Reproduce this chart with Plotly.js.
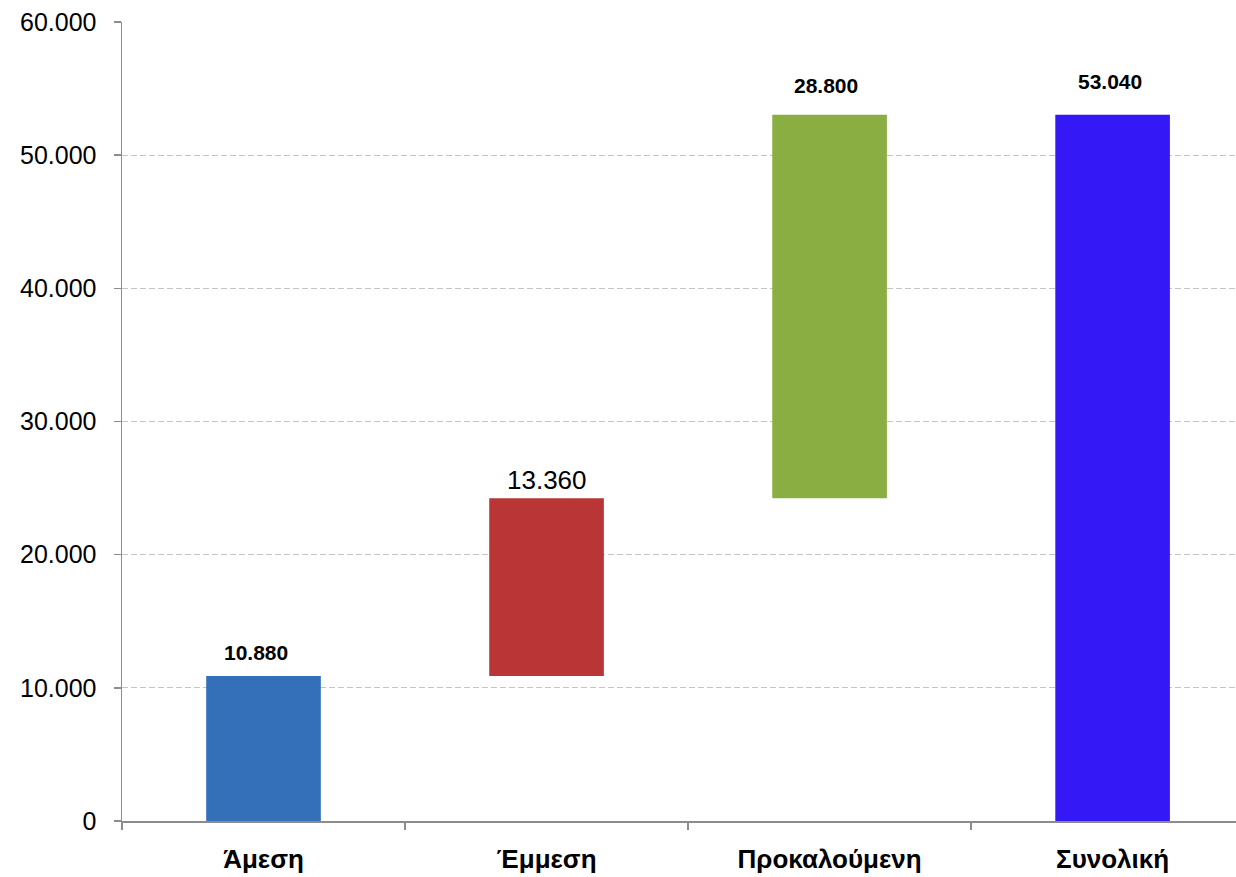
<!DOCTYPE html>
<html>
<head>
<meta charset="utf-8">
<script src="https://cdn.plot.ly/plotly-3.0.1.min.js"></script>
<style>html,body{margin:0;padding:0;background:#fff}#chart{width:1236px;height:877px}</style>
</head>
<body>
<div id="chart"></div>
<script>
// ---- data ----
const categories = ['Άμεση', 'Έμμεση', 'Προκαλούμενη', 'Συνολική'];
const values = [10880, 13360, 28800, 53040];
const bases = [0, 10880, 24240, 0];
const yTickVals = [0, 10000, 20000, 30000, 40000, 50000, 60000];

// ---- styles ----
const barColors = ['#3470BA', '#BA3535', '#8AAE42', '#3419F6'];
const labelBold = [true, false, true, true];
const labelSize = [21, 26, 21, 21];
const labelShift = [10, 1, 16, 20];
const labelXShift = [-8, 0, -4, -3];

function fmt(v) {
  return String(v).replace(/\B(?=(\d{3})+(?!\d))/g, '.');
}

const trace = {
  type: 'bar',
  x: categories,
  y: values,
  base: bases,
  width: 0.405,
  marker: { color: barColors, line: { width: 0 } },
  hoverinfo: 'skip'
};

const annotations = categories.map((c, i) => ({
  x: c,
  y: bases[i] + values[i],
  xref: 'x', yref: 'y',
  text: labelBold[i] ? '<b>' + fmt(values[i]) + '</b>' : fmt(values[i]),
  showarrow: false,
  yanchor: 'bottom',
  yshift: labelShift[i],
  xshift: labelXShift[i],
  font: { family: 'Liberation Sans, Arial, sans-serif', size: labelSize[i], color: '#000' }
}));

const layout = {
  width: 1236,
  height: 877,
  margin: { l: 122, r: 0, t: 22, b: 56, pad: 0 },
  paper_bgcolor: '#fff',
  plot_bgcolor: '#fff',
  separators: ',.',
  showlegend: false,
  font: { family: 'Liberation Sans, Arial, sans-serif', color: '#000' },
  xaxis: {
    type: 'category',
    range: [-0.5, 3.436],
    showgrid: false,
    showline: true,
    linecolor: '#8c8c8c',
    linewidth: 1.5,
    ticks: 'outside',
    tickson: 'boundaries',
    ticklen: 7,
    tickcolor: '#8c8c8c',
    tickwidth: 1.5,
    tickfont: { family: 'Liberation Sans, Arial, sans-serif', size: 26, color: '#000', weight: 'bold' },
    ticklabelstandoff: 14,
    fixedrange: true,
    zeroline: false
  },
  yaxis: {
    range: [0, 60000],
    tickvals: yTickVals,
    ticktext: yTickVals.map(fmt),
    showgrid: true,
    gridcolor: '#c4c4c4',
    gridwidth: 1,
    griddash: '6px,3px',
    showline: true,
    linecolor: '#8c8c8c',
    linewidth: 1.5,
    ticks: 'outside',
    ticklen: 7,
    tickcolor: '#8c8c8c',
    tickwidth: 1.5,
    tickfont: { family: 'Liberation Sans, Arial, sans-serif', size: 25, color: '#000' },
    ticklabelstandoff: 12,
    zeroline: false,
    fixedrange: true
  },
  annotations: annotations
};

Plotly.newPlot('chart', [trace], layout, { displayModeBar: false, staticPlot: true });
</script>
</body>
</html>
